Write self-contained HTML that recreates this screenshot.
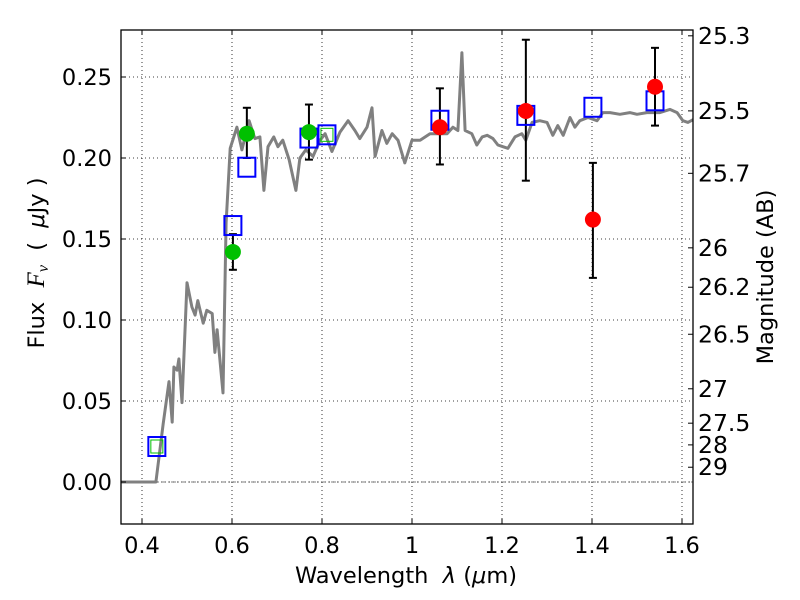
<!DOCTYPE html>
<html><head><meta charset="utf-8">
<style>
html,body{margin:0;padding:0;background:#fff;}
svg{display:block;font-family:"DejaVu Sans","Liberation Sans",sans-serif;}
</style></head>
<body>
<svg id="chart" width="800" height="600" viewBox="0 0 800 600" xmlns="http://www.w3.org/2000/svg">
<rect width="800" height="600" fill="#fff"/>
<defs><clipPath id="plotclip"><rect x="121" y="30" width="572" height="494"/></clipPath></defs>
<g id="grid"></g>
<g id="spec" clip-path="url(#plotclip)"></g>
<g id="marks"></g>
<rect x="121" y="30" width="572" height="494" fill="none" stroke="#000" stroke-width="1.3"/>
<g id="axes"></g>
<text x="406" y="583" font-size="22.5" text-anchor="middle" xml:space="preserve">Wavelength  <tspan font-style="italic">λ</tspan> (<tspan font-style="italic">μ</tspan>m)</text>
<text transform="translate(44,263) rotate(-90)" font-size="22.5" text-anchor="middle" xml:space="preserve">Flux  <tspan font-family="Liberation Serif,serif" font-style="italic" font-size="25">F<tspan font-size="16" dy="4">ν</tspan></tspan><tspan dy="-4">  (  </tspan><tspan font-style="italic">μ</tspan>Jy )</text>
<text transform="translate(773,277) rotate(-90)" font-size="22.5" text-anchor="middle">Magnitude (AB)</text>
</svg>
<script>
const xTicks=[0.4,0.6,0.8,1.0,1.2,1.4,1.6];
const xTickLabels=["0.4","0.6","0.8","1","1.2","1.4","1.6"];
const yTicks=[0,0.05,0.10,0.15,0.20,0.25];
const yTickLabels=["0.00","0.05","0.10","0.15","0.20","0.25"];
const magTicks=[25.3,25.5,25.7,26,26.2,26.5,27,27.5,28,29];
const specLam=[0.353,0.431,0.447,0.460,0.467,0.471,0.478,0.482,0.489,0.500,0.511,0.518,0.524,0.536,0.544,0.556,0.562,0.567,0.580,0.587,0.596,0.611,0.622,0.638,0.651,0.662,0.671,0.680,0.693,0.702,0.713,0.727,0.742,0.751,0.764,0.780,0.796,0.807,0.822,0.840,0.858,0.873,0.884,0.900,0.911,0.918,0.933,0.944,0.956,0.969,0.984,1.000,1.018,1.040,1.062,1.078,1.091,1.102,1.111,1.118,1.133,1.144,1.156,1.167,1.180,1.191,1.202,1.213,1.229,1.244,1.253,1.267,1.284,1.300,1.313,1.324,1.336,1.351,1.362,1.373,1.391,1.411,1.424,1.440,1.462,1.484,1.500,1.522,1.551,1.573,1.589,1.602,1.613,1.627];
const specFlux=[0,0,0.036,0.062,0.037,0.071,0.069,0.076,0.049,0.123,0.108,0.103,0.112,0.098,0.106,0.104,0.080,0.094,0.055,0.160,0.206,0.219,0.205,0.223,0.212,0.213,0.180,0.207,0.213,0.207,0.211,0.199,0.180,0.200,0.205,0.201,0.211,0.215,0.204,0.216,0.223,0.217,0.212,0.219,0.231,0.201,0.217,0.209,0.215,0.211,0.197,0.211,0.211,0.215,0.215,0.215,0.219,0.217,0.265,0.217,0.215,0.208,0.213,0.214,0.212,0.208,0.207,0.206,0.213,0.215,0.211,0.222,0.223,0.222,0.214,0.220,0.214,0.225,0.219,0.223,0.225,0.223,0.228,0.228,0.227,0.228,0.227,0.228,0.228,0.230,0.228,0.223,0.222,0.224];
const modelLam=[0.433,0.602,0.633,0.771,0.811,1.062,1.253,1.402,1.540];
const modelFlux=[0.0216,0.158,0.194,0.212,0.214,0.223,0.226,0.231,0.235];
const modelInner=[true,false,false,false,true,false,false,false,false];
const greenLam=[0.602,0.633,0.771];
const greenFlux=[0.142,0.215,0.216];
const greenLo=[0.131,0.200,0.199];
const greenHi=[0.153,0.231,0.233];
const redLam=[1.062,1.253,1.402,1.540];
const redFlux=[0.219,0.229,0.162,0.244];
const redLo=[0.196,0.186,0.126,0.220];
const redHi=[0.243,0.273,0.197,0.268];

const NS="http://www.w3.org/2000/svg";
const X=v=>142+(v-0.4)*450;
const Y=v=>482-v*1620;
function mk(tag,attrs,parent){const e=document.createElementNS(NS,tag);for(const k in attrs)e.setAttribute(k,attrs[k]);parent.appendChild(e);return e;}
const grid=document.getElementById('grid'),axes=document.getElementById('axes'),spec=document.getElementById('spec'),marks=document.getElementById('marks');
xTicks.forEach((t,i)=>{
  const x=X(t);
  let g=mk('line',{x1:x,x2:x,y1:30,y2:524,stroke:'#000','stroke-width':0.8,'stroke-dasharray':'1,3'},grid);
  
  
  mk('line',{x1:x,x2:x,y1:524,y2:519,stroke:'#000'},axes);
  mk('line',{x1:x,x2:x,y1:30,y2:35,stroke:'#000'},axes);
  let l=mk('text',{x:x,y:553,'font-size':22.5,'text-anchor':'middle'},axes);
  l.textContent=xTickLabels[i];
  
  
});
yTicks.forEach((t,i)=>{
  const y=Y(t);
  let g=mk('line',{x1:121,x2:693,y1:y,y2:y,stroke:'#000','stroke-width':0.8,'stroke-dasharray':'1,3'},grid);
  
  
  mk('line',{x1:121,x2:126,y1:y,y2:y,stroke:'#000'},axes);
  let l=mk('text',{x:112,y:y+8,'font-size':22.5,'text-anchor':'end'},axes);
  l.textContent=yTickLabels[i];
  
  
});
mk('line',{x1:121,x2:693,y1:Y(0),y2:Y(0),stroke:'#555','stroke-width':0.8,'stroke-dasharray':'5,2,1,2'},grid);
magTicks.forEach(m=>{
  const f=Math.pow(10,(23.9-m)/2.5);const y=Y(f);
  mk('line',{x1:693,x2:688,y1:y,y2:y,stroke:'#000'},axes);
  let l=mk('text',{x:698,y:y+8,'font-size':23.5},axes);
  l.textContent=String(m);
  
  
});
const pts=specLam.map((l,i)=>X(l).toFixed(1)+','+Y(specFlux[i]).toFixed(1)).join(' ');
let sp=mk('polyline',{points:pts,fill:'none',stroke:'#808080','stroke-width':3,'stroke-linejoin':'round'},spec);


function errbar(lam,lo,hi){const x=X(lam);
  let e=mk('g',{stroke:'#000','stroke-width':2},marks);
  
  
  mk('line',{x1:x,x2:x,y1:Y(lo),y2:Y(hi)},e);
  mk('line',{x1:x-4,x2:x+4,y1:Y(lo),y2:Y(lo)},e);
  mk('line',{x1:x-4,x2:x+4,y1:Y(hi),y2:Y(hi)},e);}
greenLam.forEach((l,i)=>errbar(l,greenLo[i],greenHi[i]));
redLam.forEach((l,i)=>errbar(l,redLo[i],redHi[i]));
modelLam.forEach((l,i)=>{const x=X(l),y=Y(modelFlux[i]);
  let s=mk('rect',{x:x-8.5,y:y-10,width:17,height:19,fill:'none',stroke:'#0000ff','stroke-width':2},marks);
  
  
  if(modelInner[i]){mk('rect',{x:x-6,y:y-7,width:12,height:13,fill:'none',stroke:'#00c000','stroke-width':1},marks);}
});
greenLam.forEach((l,i)=>{let c=mk('circle',{cx:X(l),cy:Y(greenFlux[i]),r:8,fill:'#00c000'},marks);
  
  });
redLam.forEach((l,i)=>{let c=mk('circle',{cx:X(l),cy:Y(redFlux[i]),r:8,fill:'#ff0000'},marks);
  
  });
</script>
</body></html>
